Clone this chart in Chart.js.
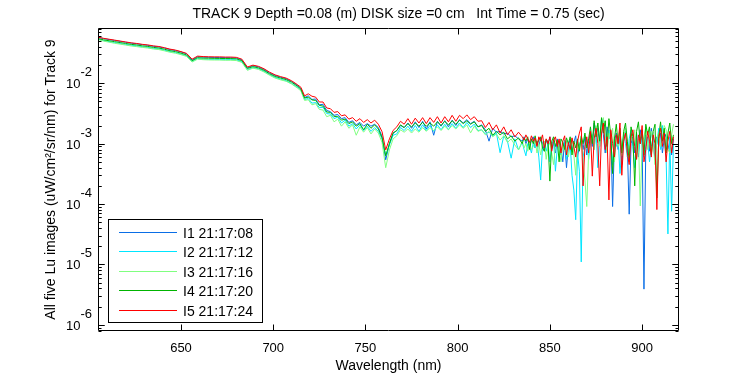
<!DOCTYPE html>
<html><head><meta charset="utf-8">
<script src="https://cdn.jsdelivr.net/npm/chart.js@4.4.0/dist/chart.umd.min.js"></script>
<style>html,body{margin:0;padding:0;background:#fff;}canvas{display:block;}</style>
</head><body>
<canvas id="c" width="750" height="375"></canvas>
<script>
const titleText = 'TRACK 9 Depth =0.08 (m) DISK size =0 cm   Int Time = 0.75 (sec)';
const xTitle = 'Wavelength (nm)';
const yTitle = 'All five Lu images (uW/cm\u00B2/sr/nm) for Track 9';
const xTicks = [650, 700, 750, 800, 850, 900];
const yTicks = [1e-6, 1e-5, 1e-4, 1e-3, 1e-2];
const yTickExp = ['-6', '-5', '-4', '-3', '-2'];
const seriesLabels = ['I1 21:17:08', 'I2 21:17:12', 'I3 21:17:16', 'I4 21:17:20', 'I5 21:17:24'];
const seriesColors = ['#0a6ee6', '#00e6ff', '#80ff80', '#00b400', '#ff0000'];

const wavelengths = [605,608,611,614,617,620,623,626,629,632,
635,638,641,644,647,650,653,656,659,662,
665,668,671,674,677,680,683,686,689,692,
695,698,701,704,707,710,713,
715,717,719,721,723,725,727,729,731,733,
735,737,739,741,743,745,747,749,751,753,
755,757,759,761,763,765,767,769,771,773,
775,777,779,781,783,785,787,789,791,793,
795,797,799,801,803,805,807,809,811,813,
815,817,819,821,823,825,827,829,831,833,
835,836,837,838,839,840,841,842,843,844,
845,846,847,848,849,850,851,852,853,854,
855,856,857,858,859,860,861,862,863,864,
865,866,867,868,869,870,871,872,873,874,
875,876,877,878,879,880,881,882,883,884,
885,886,887,888,889,890,891,892,893,894,
895,896,897,898,899,900,901,902,903,904,
905,906,907,908,909,910,911,912,913,914,
915,916,917];

const I1 = [5.75e-2,5.5e-2,5.3e-2,5.12e-2,4.95e-2,4.78e-2,4.62e-2,4.5e-2,4.36e-2,4.26e-2,
4.1e-2,4.0e-2,3.83e-2,3.62e-2,3.49e-2,3.3e-2,3.08e-2,2.42e-2,2.76e-2,2.71e-2,
2.69e-2,2.68e-2,2.67e-2,2.66e-2,2.65e-2,2.62e-2,2.45e-2,1.8e-2,1.96e-2,1.87e-2,
1.7e-2,1.49e-2,1.35e-2,1.26e-2,1.19e-2,1.07e-2,9.3e-3,
8.2e-3,5.8e-3,6.2e-3,5.4e-3,5.5e-3,4.4e-3,4.5e-3,3.55e-3,3.4e-3,2.95e-3,
3.05e-3,2.6e-3,2.7e-3,2.25e-3,2.4e-3,2.05e-3,2.25e-3,1.95e-3,2.15e-3,1.95e-3,
2.1e-3,1.85e-3,1.32e-3,5.4e-4,1.0e-3,1.48e-3,1.65e-3,2.0e-3,1.85e-3,2.2e-3,
1.8e-3,2.3e-3,1.85e-3,2.35e-3,1.75e-3,2.3e-3,1.38e-3,2.35e-3,1.95e-3,2.4e-3,
1.9e-3,2.45e-3,2.0e-3,2.5e-3,2.2e-3,2.5e-3,2.15e-3,2.35e-3,1.9e-3,2.05e-3,
1.7e-3,1.1e-3,1.8e-3,1.55e-3,1.6e-3,1.45e-3,1.5e-3,1.3e-3,1.35e-3,1.2e-3,
1.1e-3,1.3e-3,1.0e-3,1.2e-3,9.5e-4,1.15e-3,1.3e-3,8.5e-4,1.1e-3,9.0e-4,
1.25e-3,1.0e-3,7.5e-4,1.15e-3,9.5e-4,1.3e-3,8.0e-4,1.05e-3,7.0e-4,1.2e-3,
1.0e-3,8.5e-4,5.0e-4,1.1e-3,4.0e-4,9.0e-4,1.2e-3,7.5e-4,1.05e-3,1.35e-3,
6.0e-4,9.5e-4,1.2e-3,8.0e-4,1.3e-3,6.5e-4,1.1e-3,1.5e-3,9.0e-4,2.2e-3,
1.3e-3,1.8e-3,9.0e-4,2.5e-3,1.4e-3,7.0e-4,1.9e-3,1.2e-3,1.6e-3,9.1e-5,
1.1e-3,1.5e-3,8.0e-4,1.3e-3,4.5e-4,1.2e-3,1.6e-3,9.0e-4,6.8e-5,1.0e-3,
1.3e-3,7.0e-4,1.5e-3,6.0e-4,1.7e-3,1.1e-3,3.9e-6,9.0e-4,1.3e-3,7.5e-4,
1.8e-3,1.0e-3,5.5e-4,1.3e-3,9.0e-4,1.5e-3,7.0e-4,1.2e-3,1.45e-3,8.0e-4,
1.1e-3,6.5e-4,1.2e-3];

const I2 = [5.4e-2,5.1e-2,4.9e-2,4.72e-2,4.55e-2,4.4e-2,4.26e-2,4.15e-2,4.02e-2,3.92e-2,
3.78e-2,3.7e-2,3.53e-2,3.35e-2,3.22e-2,3.04e-2,2.85e-2,2.3e-2,2.57e-2,2.5e-2,
2.48e-2,2.49e-2,2.47e-2,2.46e-2,2.47e-2,2.44e-2,2.28e-2,1.68e-2,1.82e-2,1.74e-2,
1.58e-2,1.39e-2,1.25e-2,1.17e-2,1.1e-2,9.9e-3,8.6e-3,
7.7e-3,5.4e-3,5.6e-3,4.7e-3,4.8e-3,3.95e-3,4.0e-3,3.15e-3,3.1e-3,2.6e-3,
2.75e-3,2.2e-3,2.45e-3,1.95e-3,2.15e-3,1.75e-3,2.05e-3,1.65e-3,1.95e-3,1.6e-3,
1.85e-3,1.6e-3,1.2e-3,6.3e-4,9.5e-4,1.38e-3,1.45e-3,1.85e-3,1.65e-3,1.95e-3,
1.6e-3,2.0e-3,1.6e-3,2.05e-3,1.65e-3,2.0e-3,1.6e-3,2.05e-3,1.7e-3,2.1e-3,
1.7e-3,2.15e-3,1.8e-3,2.2e-3,1.85e-3,2.25e-3,1.85e-3,2.1e-3,1.65e-3,1.7e-3,
1.45e-3,1.55e-3,1.35e-3,1.5e-3,7.1e-4,1.35e-3,1.1e-3,5.75e-4,1.2e-3,7.9e-4,
1.05e-3,8.0e-4,6.3e-4,1.0e-3,9.0e-4,7.0e-4,1.05e-3,8.5e-4,1.1e-3,6.0e-4,
2.5e-4,9.0e-4,1.1e-3,7.5e-4,1.0e-3,5.0e-4,9.5e-4,1.2e-3,3.5e-4,8.5e-4,
1.05e-3,6.5e-4,9.0e-4,1.15e-3,5.5e-4,8.0e-4,1.0e-3,3.0e-4,1.7e-4,5.5e-5,
7.0e-4,3.5e-4,1.1e-5,6.0e-4,9.0e-4,1.2e-3,5.5e-4,1.0e-3,1.4e-3,8.0e-4,
1.6e-3,4.0e-4,1.1e-3,2.0e-3,2.6e-3,1.2e-3,8.0e-4,1.7e-3,1.1e-3,4.5e-4,
1.3e-3,9.0e-4,1.2e-3,3.2e-4,8.0e-4,1.4e-3,1.0e-3,6.0e-4,1.2e-3,1.7e-3,
9.0e-4,4.0e-4,1.1e-3,7.0e-4,1.3e-3,1.0e-3,6.0e-4,1.4e-3,1.1e-3,5.0e-4,
9.0e-4,1.3e-3,7.5e-4,1.0e-3,1.8e-3,8.0e-4,2.0e-3,1.2e-3,6.0e-4,3.2e-5,
1.3e-3,7.6e-5,1.0e-3];

const I3 = [5.3e-2,5.0e-2,4.8e-2,4.6e-2,4.45e-2,4.3e-2,4.15e-2,4.05e-2,3.93e-2,3.84e-2,
3.7e-2,3.62e-2,3.45e-2,3.27e-2,3.15e-2,2.98e-2,2.79e-2,2.25e-2,2.51e-2,2.46e-2,
2.44e-2,2.43e-2,2.43e-2,2.41e-2,2.41e-2,2.38e-2,2.22e-2,1.64e-2,1.78e-2,1.7e-2,
1.54e-2,1.36e-2,1.22e-2,1.14e-2,1.08e-2,9.7e-3,8.4e-3,
7.5e-3,5.2e-3,5.35e-3,4.4e-3,4.6e-3,3.7e-3,3.6e-3,2.8e-3,2.95e-3,2.3e-3,
2.55e-3,1.95e-3,2.3e-3,1.8e-3,2.05e-3,1.38e-3,1.9e-3,1.55e-3,1.85e-3,1.45e-3,
1.75e-3,1.5e-3,1.05e-3,4.0e-4,7.9e-4,1.2e-3,1.35e-3,1.7e-3,1.55e-3,1.75e-3,
1.5e-3,1.75e-3,1.55e-3,1.85e-3,1.6e-3,1.85e-3,1.65e-3,1.9e-3,1.65e-3,1.95e-3,
1.7e-3,2.0e-3,1.75e-3,2.05e-3,1.8e-3,2.05e-3,1.51e-3,1.95e-3,1.6e-3,1.7e-3,
1.4e-3,1.6e-3,1.3e-3,1.45e-3,1.15e-3,1.35e-3,1.05e-3,1.2e-3,9.5e-4,7.9e-4,
1.1e-3,8.5e-4,1.0e-3,7.5e-4,1.05e-3,8.0e-4,9.0e-4,1.15e-3,7.0e-4,1.0e-3,
6.5e-4,9.5e-4,1.1e-3,5.5e-4,9.0e-4,1.05e-3,7.0e-4,4.5e-4,9.5e-4,1.1e-3,
8.0e-4,5.0e-4,1.0e-3,7.5e-4,1.1e-3,6.0e-4,9.0e-4,1.2e-3,6.5e-4,3.0e-4,
1.0e-3,8.0e-4,1.3e-3,5.0e-4,2.5e-4,9.1e-5,7.0e-4,1.1e-3,1.4e-3,8.0e-4,
2.0e-3,1.3e-3,9.0e-4,1.7e-3,2.7e-3,1.1e-3,7.0e-4,1.5e-3,1.1e-3,1.8e-3,
5.0e-4,1.2e-3,9.0e-4,1.6e-3,6.3e-4,1.3e-3,1.8e-3,1.0e-3,7.0e-4,1.4e-3,
1.1e-3,1.7e-3,5.5e-4,1.2e-3,9.3e-5,1.0e-3,1.3e-3,1.9e-3,8.0e-4,1.3e-3,
1.6e-3,1.0e-3,4.5e-4,1.2e-3,1.5e-3,9.0e-4,1.1e-3,2.0e-3,1.7e-3,8.0e-4,
7.0e-4,1.4e-3,2.1e-3];

const I4 = [5.5e-2,5.25e-2,5.07e-2,4.9e-2,4.73e-2,4.57e-2,4.42e-2,4.31e-2,4.17e-2,4.08e-2,
3.94e-2,3.84e-2,3.67e-2,3.47e-2,3.35e-2,3.16e-2,2.95e-2,2.37e-2,2.66e-2,2.61e-2,
2.6e-2,2.59e-2,2.58e-2,2.57e-2,2.57e-2,2.54e-2,2.37e-2,1.76e-2,1.89e-2,1.8e-2,
1.64e-2,1.44e-2,1.3e-2,1.22e-2,1.15e-2,1.04e-2,9.0e-3,
8.0e-3,5.7e-3,5.9e-3,5.3e-3,5.2e-3,4.3e-3,4.2e-3,3.35e-3,3.3e-3,2.8e-3,
2.85e-3,2.45e-3,2.55e-3,2.15e-3,2.3e-3,1.95e-3,2.15e-3,1.7e-3,2.1e-3,1.8e-3,
2.05e-3,1.75e-3,1.26e-3,6.3e-4,1.0e-3,1.51e-3,1.65e-3,2.05e-3,1.85e-3,2.15e-3,
1.9e-3,2.2e-3,1.95e-3,2.25e-3,1.95e-3,2.2e-3,1.95e-3,2.3e-3,2.0e-3,2.35e-3,
2.05e-3,2.4e-3,2.1e-3,2.45e-3,2.15e-3,2.4e-3,2.1e-3,2.3e-3,1.9e-3,2.0e-3,
1.6e-3,1.8e-3,1.38e-3,1.6e-3,1.4e-3,1.55e-3,1.2e-3,1.35e-3,1.1e-3,1.25e-3,
1.0e-3,1.25e-3,1.1e-3,1.3e-3,8.0e-4,1.2e-3,1.0e-3,1.35e-3,9.5e-4,1.15e-3,
1.3e-3,8.5e-4,7.5e-4,1.2e-3,1.05e-3,2.4e-4,1.1e-3,1.3e-3,9.0e-4,1.15e-3,
5.0e-4,1.2e-3,1.05e-3,8.0e-4,1.25e-3,1.0e-3,1.3e-3,6.5e-4,1.1e-3,8.5e-4,
1.2e-3,7.5e-4,1.35e-3,1.0e-3,1.5e-3,8.5e-4,1.2e-3,1.9e-3,1.0e-3,2.4e-3,
1.3e-3,2.2e-3,1.1e-3,2.7e-3,1.5e-3,2.4e-3,9.0e-4,2.6e-3,1.4e-3,3.2e-4,
1.2e-3,2.1e-3,1.0e-3,1.8e-3,7.0e-4,1.6e-3,2.2e-3,1.1e-3,5.0e-4,1.9e-3,
1.3e-3,2.0e-4,1.6e-3,2.3e-3,1.0e-3,1.7e-3,6.5e-4,2.1e-3,1.4e-3,1.9e-3,
6.5e-4,1.6e-3,2.1e-3,1.26e-4,1.3e-3,2.3e-3,1.1e-3,1.8e-3,7.0e-4,1.5e-3,
2.2e-3,1.0e-3,1.4e-3];

const I5 = [5.81e-2,5.56e-2,5.37e-2,5.19e-2,5.01e-2,4.84e-2,4.68e-2,4.57e-2,4.42e-2,4.32e-2,
4.17e-2,4.07e-2,3.89e-2,3.68e-2,3.55e-2,3.35e-2,3.13e-2,2.51e-2,2.82e-2,2.77e-2,
2.75e-2,2.74e-2,2.74e-2,2.72e-2,2.72e-2,2.69e-2,2.51e-2,1.86e-2,2.0e-2,1.91e-2,
1.74e-2,1.53e-2,1.38e-2,1.29e-2,1.22e-2,1.1e-2,9.55e-3,
8.6e-3,6.2e-3,6.7e-3,6.1e-3,5.9e-3,4.9e-3,4.9e-3,3.9e-3,3.8e-3,3.3e-3,
3.4e-3,2.9e-3,3.0e-3,2.55e-3,2.7e-3,2.35e-3,2.6e-3,2.25e-3,2.5e-3,2.2e-3,
2.45e-3,2.1e-3,1.58e-3,7.9e-4,1.2e-3,1.66e-3,1.9e-3,2.35e-3,2.1e-3,2.6e-3,
2.1e-3,2.65e-3,2.2e-3,2.7e-3,2.15e-3,2.7e-3,2.25e-3,2.8e-3,2.2e-3,2.8e-3,
2.3e-3,2.95e-3,2.35e-3,2.95e-3,2.6e-3,3.0e-3,2.5e-3,2.8e-3,2.35e-3,2.4e-3,
1.85e-3,2.25e-3,1.7e-3,2.05e-3,1.5e-3,1.9e-3,1.4e-3,1.7e-3,1.3e-3,1.55e-3,
1.3e-3,1.15e-3,1.4e-3,1.2e-3,1.05e-3,1.35e-3,1.1e-3,1.25e-3,9.0e-4,1.3e-3,
1.1e-3,1.4e-3,8.5e-4,1.2e-3,1.0e-3,1.3e-3,7.5e-4,1.15e-3,1.3e-3,9.0e-4,
1.2e-3,7.0e-4,1.1e-3,1.35e-3,6.5e-4,1.05e-3,8.0e-4,1.25e-3,9.0e-4,6.0e-4,
1.1e-3,1.5e-3,1.9e-3,2.0e-4,9.0e-4,1.3e-3,7.0e-4,1.6e-3,2.9e-4,1.2e-3,
1.8e-3,1.0e-3,2.0e-4,1.5e-3,2.2e-3,8.0e-4,1.3e-3,1.17e-4,1.7e-3,1.0e-3,
6.0e-4,1.4e-3,1.0e-3,2.2e-3,3.0e-4,1.1e-3,1.5e-3,7.0e-4,4.5e-4,1.3e-3,
1.7e-3,9.0e-4,5.5e-4,1.4e-3,1.0e-3,2.0e-3,5.0e-4,8.0e-4,1.6e-3,1.1e-3,
6.0e-4,1.4e-3,1.0e-3,8.1e-5,1.2e-3,1.8e-3,9.0e-4,1.5e-3,5.0e-4,1.1e-3,
1.6e-3,7.0e-4,1.3e-3];

const seriesValues = [I1, I2, I3, I4, I5];

const FONT = '"Liberation Sans", Arial, Helvetica, sans-serif';

const matlabAxes = {
  id: 'matlabAxes',
  afterDraw(chart) {
    const ctx = chart.ctx, a = chart.chartArea, xs = chart.scales.x, ys = chart.scales.y;
    const L = Math.round(a.left) + 0.5, R = Math.round(a.right) - 0.5;
    const T = Math.round(a.top) + 0.5, B = Math.round(a.bottom) - 0.5;
    ctx.save();
    ctx.strokeStyle = '#000'; ctx.lineWidth = 1;
    ctx.beginPath();
    ctx.rect(L, T, R - L, B - T);
    xTicks.forEach(v => {
      const px = Math.round(xs.getPixelForValue(v)) + 0.5;
      ctx.moveTo(px, B); ctx.lineTo(px, B - 6);
      ctx.moveTo(px, T); ctx.lineTo(px, T + 6);
    });
    yTicks.forEach(d => {
      for (let k = 1; k <= 9; k++) {
        [d / 10 * k, d * k].forEach(v => {
          if (v < ys.min || v > ys.max) return;
          const py = Math.round(ys.getPixelForValue(v)) + 0.5;
          const len = (k === 1) ? 6 : 3;
          ctx.moveTo(L, py); ctx.lineTo(L + len, py);
          ctx.moveTo(R, py); ctx.lineTo(R - len, py);
        });
      }
    });
    ctx.stroke();

    ctx.fillStyle = '#000';
    ctx.textBaseline = 'alphabetic';
    ctx.textAlign = 'center';
    ctx.font = '13px ' + FONT;
    xTicks.forEach(v => ctx.fillText(String(v), xs.getPixelForValue(v), 352));
    ctx.font = '14px ' + FONT;
    ctx.fillText(xTitle, (a.left + a.right) / 2, 370);
    ctx.fillText(titleText, (a.left + a.right) / 2 + 10, 18);

    ctx.font = '13px ' + FONT;
    yTicks.forEach((v, i) => {
      const py = ys.getPixelForValue(v);
      ctx.textAlign = 'right';
      ctx.fillText('10', 80.5, py + 5);
      ctx.textAlign = 'left';
      ctx.fillText(yTickExp[i], 80.5, py - 7);
    });

    ctx.save();
    ctx.font = '14px ' + FONT;
    ctx.translate(55, (a.top + a.bottom) / 2);
    ctx.rotate(-Math.PI / 2);
    ctx.textAlign = 'center';
    ctx.fillText(yTitle, 0, 0);
    ctx.restore();

    // legend box
    const bx = 108.5, by = 219.5, bw = 154, bh = 103;
    ctx.fillStyle = '#fff';
    ctx.fillRect(bx, by, bw, bh);
    ctx.strokeStyle = '#000';
    ctx.strokeRect(bx, by, bw, bh);
    ctx.font = '14px ' + FONT;
    ctx.textAlign = 'left';
    seriesLabels.forEach((lab, i) => {
      const ry = 231.5 + i * 19.5;
      ctx.strokeStyle = seriesColors[i];
      ctx.beginPath();
      ctx.moveTo(119, Math.round(ry) + 0.5); ctx.lineTo(177, Math.round(ry) + 0.5);
      ctx.stroke();
      ctx.fillStyle = '#000';
      ctx.fillText(lab, 183, ry + 6);
    });
    ctx.restore();
  }
};

new Chart(document.getElementById('c'), {
  type: 'line',
  data: {
    datasets: seriesValues.map((vals, i) => ({
      label: seriesLabels[i],
      data: wavelengths.map((w, j) => ({ x: w, y: vals[j] })),
      borderColor: seriesColors[i],
      backgroundColor: seriesColors[i],
      borderWidth: 1,
      pointRadius: 0,
      tension: 0,
      fill: false,
      order: seriesValues.length - i
    }))
  },
  options: {
    responsive: false,
    animation: false,
    layout: { padding: { left: 98, right: 71, top: 28, bottom: 44 } },
    scales: {
      x: { type: 'linear', min: 605, max: 920, display: false },
      y: { type: 'logarithmic', min: 7.9e-7, max: 0.0824, display: false }
    },
    plugins: { legend: { display: false }, tooltip: { enabled: false }, title: { display: false } }
  },
  plugins: [matlabAxes]
});
</script>
</body></html>
